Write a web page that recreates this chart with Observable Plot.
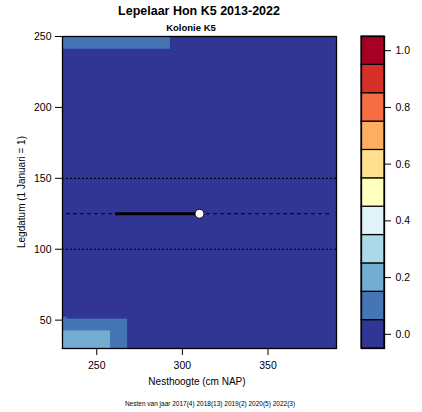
<!DOCTYPE html>
<html>
<head>
<meta charset="utf-8">
<script src="https://cdn.jsdelivr.net/npm/d3@7"></script>
<script src="https://cdn.jsdelivr.net/npm/@observablehq/plot@0.6"></script>
<style>
  body { margin: 0; background: #fff; }
  #wrap { position: relative; width: 422px; height: 412px; font-family: "Liberation Sans", sans-serif; color: #000; }
  #wrap > div { position: absolute; }
  .t { white-space: nowrap; transform: translateX(-50%); }
  #title { left: 199px; top: 4px; font-size: 12.5px; font-weight: bold; }
  #subtitle { left: 191px; top: 22px; font-size: 9.5px; font-weight: bold; }
  #xlabel { left: 197px; top: 376px; font-size: 10px; }
  #caption { left: 210px; top: 400px; font-size: 6.5px; }
  #ylabel { left: 21px; top: 192px; font-size: 10px; white-space: nowrap; transform: translate(-50%, -50%) rotate(-90deg); }
</style>
</head>
<body>
<div id="wrap">
  <div id="main"></div>
  <div id="legend" style="left:340px;top:0"></div>
  <div id="title" class="t">Lepelaar Hon K5 2013-2022</div>
  <div id="subtitle" class="t">Kolonie K5</div>
  <div id="xlabel" class="t">Nesthoogte (cm NAP)</div>
  <div id="ylabel">Legdatum (1 Januari = 1)</div>
  <div id="caption" class="t">Nesten van jaar 2017(4) 2018(13) 2019(2) 2020(5) 2022(3)</div>
</div>
<script>
// Axis extents and ticks
const xDomain = [230, 390];
const yDomain = [30, 250];
const xTicks = [250, 300, 350];
const yTicks = [50, 100, 150, 200, 250];

// Filled contour bands of the nesting probability surface
const bandX1 = [230, 230, 230, 230, 230];
const bandX2 = [390, 293, 268, 258, 233];
const bandY1 = [30, 241, 30, 30, 50.7];
const bandY2 = [250, 250, 50.7, 42.4, 52];
const bandLevel = [0.0, 0.1, 0.1, 0.2, 0.1];

// Reference dates (dotted) and the mean laying date (dashed)
const dottedDates = [100, 150];
const dashedDate = [125];

// Nest height range at the mean laying date, and the mean nest
const rangeX = [261, 310];
const rangeY = 125;
const meanNest = { x: 310, y: 125 };

// Colour bins of the legend
const levels = [0.0, 0.1, 0.2, 0.3, 0.4, 0.5, 0.6, 0.7, 0.8, 0.9, 1.0];
const palette = ["#313695", "#4575b4", "#74add1", "#abd9e9", "#e0f3f8", "#ffffbf",
                 "#fee090", "#fdae61", "#f46d43", "#d73027", "#a50026"];
const legendTicks = [0.0, 0.2, 0.4, 0.6, 0.8, 1.0];

const bands = bandLevel.map((v, i) => ({ x1: bandX1[i], x2: bandX2[i], y1: bandY1[i], y2: bandY2[i], v }));
const colorOf = v => palette[Math.round(v * 10)];

const font = "Liberation Sans, sans-serif";

const main = Plot.plot({
  width: 345,
  height: 412,
  marginTop: 36,
  marginBottom: 64,
  marginLeft: 62,
  marginRight: 9,
  style: { fontFamily: font, fontSize: "10px", background: "transparent", overflow: "visible" },
  x: { domain: xDomain, label: null },
  y: { domain: yDomain, label: null },
  marks: [
    Plot.rect(bands, { x1: "x1", x2: "x2", y1: "y1", y2: "y2", fill: d => colorOf(d.v) }),
    Plot.ruleY(dottedDates, { stroke: "black", strokeWidth: 1.2, strokeDasharray: "2,2" }),
    Plot.ruleY(dashedDate, { stroke: "black", strokeWidth: 1.2, strokeDasharray: "4,3", insetLeft: 4, insetRight: 4 }),
    Plot.ruleY([rangeY], { x1: rangeX[0], x2: rangeX[1], stroke: "black", strokeWidth: 3 }),
    Plot.dot([meanNest], { x: "x", y: "y", r: 4.5, fill: "white", stroke: "black", strokeWidth: 1 }),
    Plot.frame({ stroke: "black", strokeWidth: 1.3 }),
    Plot.axisX(xTicks, { tickSize: 7, tickPadding: 6, fontSize: 10.5 }),
    Plot.axisY(yTicks, { tickSize: 7, tickPadding: 4, fontSize: 10.5 })
  ]
});
document.getElementById("main").appendChild(main);

const legend = Plot.plot({
  width: 82,
  height: 412,
  marginTop: 36,
  marginBottom: 64,
  marginLeft: 21,
  marginRight: 38,
  style: { fontFamily: font, fontSize: "10px", background: "transparent", overflow: "visible" },
  x: { domain: [0, 1], axis: null },
  y: { domain: [-0.05, 1.05], label: null },
  marks: [
    Plot.rect(levels, { x1: 0, x2: 1, y1: d => d - 0.05, y2: d => d + 0.05, fill: d => colorOf(d), stroke: "black", strokeWidth: 1.2 }),
    Plot.frame({ stroke: "black", strokeWidth: 1.3 }),
    Plot.axisY(legendTicks, { anchor: "right", tickSize: 6, tickPadding: 5, tickFormat: d3.format(".1f"), fontSize: 10.5 })
  ]
});
document.getElementById("legend").appendChild(legend);
</script>
</body>
</html>
